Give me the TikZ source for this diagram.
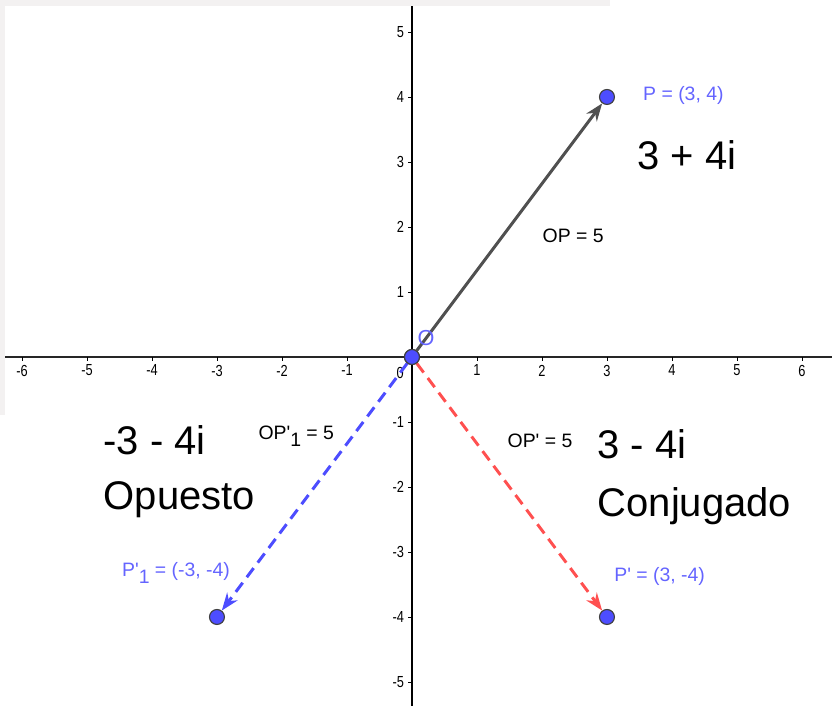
\documentclass[tikz,border=0pt]{standalone}
\usepackage{fontspec}
\setmainfont{Liberation Sans}
\newfontfamily\tickfont{Liberation Sans}[FakeStretch=0.8]
\usetikzlibrary{arrows.meta}
\definecolor{ptblue}{RGB}{77,77,255}
\definecolor{lblblue}{RGB}{100,100,255}
\definecolor{vecred}{RGB}{255,80,80}
\definecolor{vecgray}{RGB}{80,80,80}
\definecolor{bandgray}{RGB}{243,241,241}
\begin{document}
\begin{tikzpicture}[
  pt/.style={circle,draw=black!75,fill=ptblue,inner sep=0pt,minimum size=2.3mm,line width=0.5pt},
  lbl/.style={font=\fontsize{8.5}{10}\selectfont,text=lblblue,inner sep=0pt},
  len/.style={font=\fontsize{8.5}{10}\selectfont,inner sep=0pt},
  big/.style={font=\fontsize{17.5}{20}\selectfont,inner sep=0pt,anchor=west},
  tick/.style={font=\tickfont\fontsize{7}{8}\selectfont,inner sep=1pt},
  vec/.style={-{Stealth[length=2.7mm,width=2mm]},line width=1.3pt}
]
\useasboundingbox (-6.338,-5.369) rectangle (6.462,5.492);
\fill[bandgray] (-6.338,5.40) rectangle (3.046,5.492);
\fill[bandgray] (-6.338,-0.89) rectangle (-6.26,5.492);

% axes
\draw[line width=0.8pt,black!85] (-6.26,0) -- (6.462,0);
\draw[line width=0.8pt] (0,-5.369) -- (0,5.40);
\foreach \x in {-6,-5,-4,-3,-2,-1,1,2,3,4,5,6}
{
\draw (\x,0) -- (\x,-0.06);
\node[tick,below] at (\x,-0.08) {\x};
}
\foreach \y in {-5,-4,-3,-2,-1,1,2,3,4,5}
{
\draw (0,\y) -- (-0.06,\y);
\node[tick,left] at (-0.08,\y) {\y};
}
\node[tick] at (-0.18,-0.25) {0};

% points
\node[pt] (O) at (0,0) {};
\node[pt] (P) at (3,4) {};
\node[pt] (Pc) at (3,-4) {};
\node[pt] (Po) at (-3,-4) {};

% vectors
\draw[vec,vecgray] (O) -- (P);
\draw[vec,vecred,dash pattern=on 5pt off 3pt] (O) -- (Pc);
\draw[vec,ptblue,dash pattern=on 5pt off 3pt] (O) -- (Po);
\node[pt] at (O) {};

% labels
\node[lbl,font=\fontsize{9.5}{10}\selectfont] (lO) at (0.215,0.29) {O};
\node[lbl,anchor=west] (lP) at (3.55,4.02) {P = (3, 4)};
\node[lbl] (lPc) at (3.81,-3.37) {P\textquotesingle{} = (3, -4)};
\node[lbl] (lPo) at (-3.63,-3.32) {P\textquotesingle\raisebox{-0.7ex}{1} = (-3, -4)};
\node[len] (dP) at (2.48,1.86) {OP = 5};
\node[len] (dPc) at (1.97,-1.29) {OP\textquotesingle{} = 5};
\node[len] (dPo) at (-1.78,-1.22) {OP\textquotesingle\raisebox{-0.7ex}{1} = 5};

\node[big] (zP) at (3.46,3.11) {3 + 4i};
\node[big] (zPc) at (2.85,-1.34) {3 - 4i};
\node[big] (nPc) at (2.85,-2.29) {Conjugado};
\node[big] (zPo) at (-4.75,-1.28) {-3 - 4i};
\node[big] (nPo) at (-4.75,-2.2) {Opuesto};
\end{tikzpicture}
\end{document}
